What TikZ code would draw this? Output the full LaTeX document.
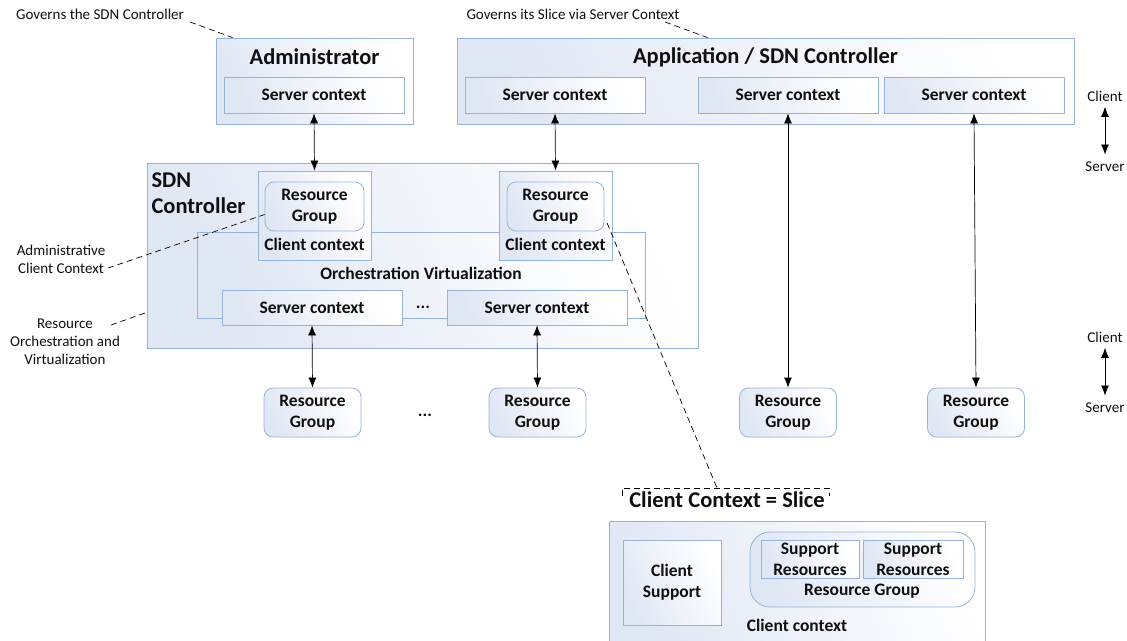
\documentclass[tikz,border=0pt]{standalone}
\usepackage{fontspec}
\setmainfont{Carlito}
\usetikzlibrary{arrows.meta}

\definecolor{edgeblue}{RGB}{149,179,215}
\definecolor{shadeblue}{RGB}{224,231,244}
\definecolor{ink}{RGB}{15,15,15}

\tikzset{
  box/.style={draw=edgeblue, line width=0.8pt, left color=shadeblue, right color=white, shading angle=115, inner sep=0pt},
  rgbox/.style={box, rounded corners=9pt},
  lbl/.style={font=\fontsize{17.5}{21}\selectfont\bfseries, text=ink, align=center},
  ttl/.style={font=\fontsize{22.5}{26}\selectfont\bfseries, text=ink, align=left},
  note/.style={font=\fontsize{15}{18}\selectfont, text=ink, align=center},
  link/.style={<->, >={Latex[length=10pt,width=8pt]}, line width=0.7pt},
  call/.style={dash pattern=on 6pt off 4pt, line width=0.7pt},
}

\begin{document}
\begin{tikzpicture}[x=1pt, y=-1pt]
\useasboundingbox (0,0) rectangle (1127,640);

\node[box, minimum width=197, minimum height=86] (adm) at (314.5,81) {};
\node[ttl] (admt) at (314.5,57) {Administrator};
\node[box, lbl, minimum width=180, minimum height=36] (admsc) at (314,95) {Server context};

\node[box, minimum width=617, minimum height=86] (app) at (765.5,81) {};
\node[ttl] (appt) at (765.5,57) {Application / SDN Controller};
\node[box, lbl, minimum width=180, minimum height=36] (appsc1) at (555,95) {Server context};
\node[box, lbl, minimum width=180, minimum height=36] (appsc2) at (788,95) {Server context};
\node[box, lbl, minimum width=180, minimum height=36] (appsc3) at (974,95) {Server context};

\node[box, minimum width=551, minimum height=185] (sdn) at (422.5,255.5) {};
\node[ttl, anchor=north west] (sdnt) at (148,169) {SDN\\Controller};
\node[box, minimum width=448, minimum height=86] (orch) at (421,275) {};
\node[lbl] (orcht) at (421,273) {Orchestration Virtualization};

\node[box, minimum width=113, minimum height=89] (cc1) at (314.5,215.5) {};
\node[rgbox, lbl, minimum width=99, minimum height=49] (rg1) at (314.5,206.5) {Resource\\Group};
\node[lbl] (cc1t) at (314.5,244) {Client context};
\node[box, minimum width=113, minimum height=89] (cc2) at (555.5,215.5) {};
\node[rgbox, lbl, minimum width=97, minimum height=49] (rg2) at (555.5,206.5) {Resource\\Group};
\node[lbl] (cc2t) at (555.5,244) {Client context};

\node[box, lbl, minimum width=180, minimum height=35] (osc1) at (312,307.5) {Server context};
\node[box, lbl, minimum width=180, minimum height=35] (osc2) at (537,307.5) {Server context};
\node[lbl] (odots) at (423,307) {...};

\node[rgbox, lbl, minimum width=97, minimum height=49] (brg1) at (312.5,412.5) {Resource\\Group};
\node[rgbox, lbl, minimum width=97, minimum height=49] (brg2) at (537.5,412.5) {Resource\\Group};
\node[rgbox, lbl, minimum width=97, minimum height=49] (brg3) at (788,412.5) {Resource\\Group};
\node[rgbox, lbl, minimum width=97, minimum height=49] (brg4) at (976,412.5) {Resource\\Group};
\node[lbl] (bdots) at (425,415) {...};

\draw[link] (admsc.south) -- (cc1.north);
\draw[link] (appsc1.south) -- (cc2.north);
\draw[link] (appsc2.south) -- (brg3.north);
\draw[link] (appsc3.south) -- (brg4.north);
\draw[link] (osc1.south) -- (brg1.north);
\draw[link] (osc2.south) -- (brg2.north);

\node[note] (cl1) at (1105,96) {Client};
\node[note] (sv1) at (1105,167) {Server};
\node[note] (cl2) at (1105,337) {Client};
\node[note] (sv2) at (1105,408) {Server};
\draw[link] ([yshift=-2pt]cl1.south) -- ([yshift=4pt]sv1.north);
\draw[link] ([yshift=-2pt]cl2.south) -- ([yshift=4pt]sv2.north);

\node[note] (gov1) at (100,14) {Governs the SDN Controller};
\node[note] (gov2) at (573,14) {Governs its Slice via Server Context};
\node[note] (acc) at (61,259) {Administrative\\Client Context};
\node[note] (roc) at (65,342) {Resource\\Orchestration and\\Virtualization};
\coordinate (gov1e) at (190,22);
\coordinate (gov2e) at (665,22);
\coordinate (acce) at (108,268);
\coordinate (roce) at (111,325);
\draw[call] (gov1e) -- ([xshift=17pt]adm.north west);
\draw[call] (gov2e) -- ([xshift=251pt]app.north west);
\draw[call] (acce) -- ([yshift=-8pt]rg1.west);
\draw[call] (roce) -- ([yshift=36pt]sdn.south west);

\coordinate (brk) at (717,488);
\draw[call, shorten <=7pt] ([yshift=-10pt]rg2.east) -- (brk);
\draw[call] (622,496) -- (622,488) -- (829,488) -- (829,496);
\node[ttl] (slicet) at (727,500) {Client Context = Slice};

\node[box, minimum width=376, minimum height=128] (slice) at (797,585) {};
\node[box, lbl, minimum width=98, minimum height=85] (cs) at (672,582.5) {Client\\Support};
\node[rgbox, rounded corners=20pt, minimum width=225, minimum height=75] (rgs) at (862.5,569.5) {};
\node[box, lbl, minimum width=98, minimum height=38] (sr1) at (810,559) {Support\\Resources};
\node[box, lbl, minimum width=100, minimum height=38] (sr2) at (913,559) {Support\\Resources};
\node[lbl] (rgst) at (862,591) {Resource Group};
\node[lbl] (slcc) at (797,625) {Client context};
\end{tikzpicture}
\end{document}
